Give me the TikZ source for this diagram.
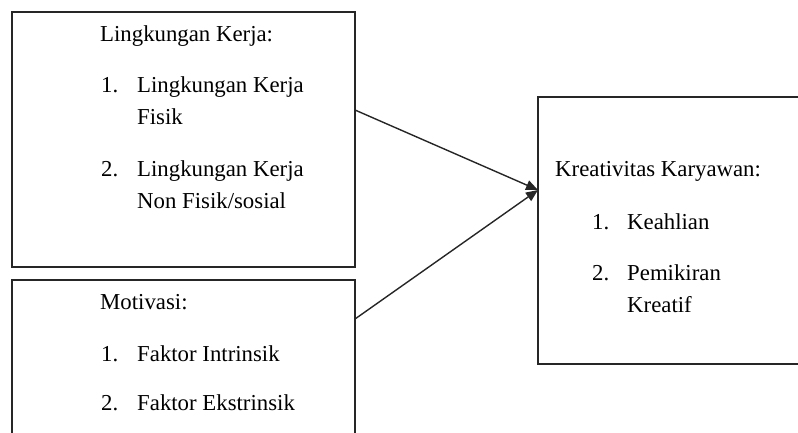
\documentclass[tikz,border=0pt]{standalone}
\usepackage{fontspec}
\setmainfont{Liberation Serif}
\usetikzlibrary{arrows.meta}
\begin{document}
\begin{tikzpicture}[x=1pt,y=-1pt,
  box/.style={draw=black!85,line width=1.4pt,inner sep=0pt,outer sep=0pt,anchor=north west},
  txt/.style={anchor=base west,inner sep=0pt,font=\fontsize{22.8}{27}\selectfont,text=black},
  conn/.style={draw=black!85,line width=1.4pt,-{Triangle[length=12pt,width=10pt]}}]
\useasboundingbox (0,0) rectangle (798,433);
\clip (0,0) rectangle (798,433);
\node[box,minimum width=343pt,minimum height=255pt] (b1) at (12,12) {};
\node[box,minimum width=343pt,minimum height=250pt] (b2) at (12,280) {};
\node[box,minimum width=400pt,minimum height=267pt] (b3) at (538,97) {};
\coordinate (y1) at (0,110);
\coordinate (y2) at (0,319);
\coordinate (tip) at (0,190);
\draw[conn] (b1.east |- y1) -- (b3.west |- tip);
\draw[conn] (b2.east |- y2) -- (b3.west |- tip);
% box 1
\node[txt] (t1) at (100,42) {Lingkungan Kerja:};
\node[txt] (t1a) at (101,93) {1.};
\node[txt] (t1b) at (137,93) {Lingkungan Kerja};
\node[txt] (t1c) at (137,125) {Fisik};
\node[txt] (t1d) at (101,177) {2.};
\node[txt] (t1e) at (137,177) {Lingkungan Kerja};
\node[txt] (t1f) at (137,208) {Non Fisik/sosial};
% box 2
\node[txt] (t2) at (100,309) {Motivasi:};
\node[txt] (t2a) at (101,361) {1.};
\node[txt] (t2b) at (137,361) {Faktor Intrinsik};
\node[txt] (t2c) at (101,410) {2.};
\node[txt] (t2d) at (137,410) {Faktor Ekstrinsik};
% box 3
\node[txt] (t3) at (555,177) {Kreativitas Karyawan:};
\node[txt] (t3a) at (592,229) {1.};
\node[txt] (t3b) at (627,229) {Keahlian};
\node[txt] (t3c) at (592,280) {2.};
\node[txt] (t3d) at (627,280) {Pemikiran};
\node[txt] (t3e) at (627,312) {Kreatif};
\end{tikzpicture}
\end{document}
